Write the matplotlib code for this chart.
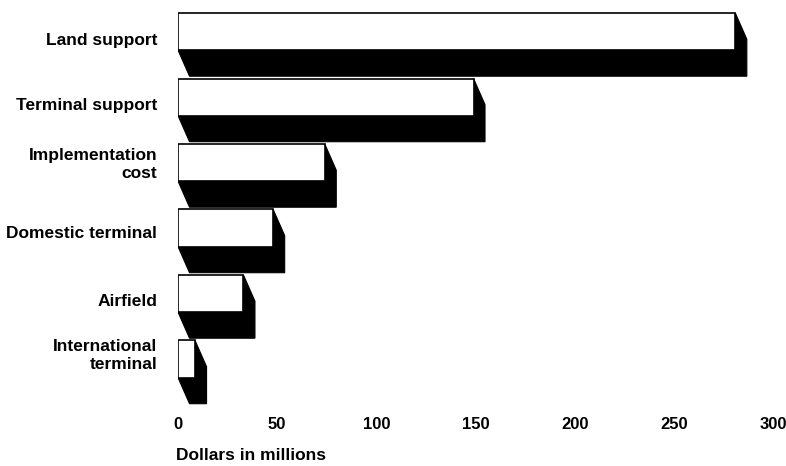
import matplotlib.pyplot as plt
from matplotlib.patches import Polygon, Rectangle

# values (dollars in millions)
categories = ["Land support", "Terminal support", "Implementation\ncost",
              "Domestic terminal", "Airfield", "International\nterminal"]
values = [281, 149, 74, 48, 33, 8.6]
x_ticks = [0, 50, 100, 150, 200, 250, 300]

FONT = "Liberation Sans"
PITCH = 65.5  # pixels per bar slot
# the scanned labels sit a little off the bar centre, offsets in pixels
label_nudge = [7.5, 7, -1.5, 4, 6.5, -7]


def draw_bar(ax, y, value, height=0.565, depth=0.40, dx=5.8):
    """ draws one white front face with a black extruded shadow below/right """
    bottom = y + height
    shadow = [(0, bottom), (value, bottom), (value, y), (value + dx, y + depth),
              (value + dx, bottom + depth), (dx, bottom + depth)]
    ax.add_patch(Polygon(shadow, closed=True, facecolor="black", edgecolor="black",
                         linewidth=0.8, zorder=2))
    ax.add_patch(Rectangle((0, y), value, height, facecolor="white", edgecolor="black",
                           linewidth=1.2, zorder=3))


def main():
    fig = plt.figure(figsize=(7.86, 4.66), dpi=100)
    # axes from x=178px to 773px, y=10px to 410px
    ax = fig.add_axes([178 / 786, 1 - 410 / 466, 595 / 786, 400 / 466])

    for i, v in enumerate(values):
        draw_bar(ax, i, v)

    ax.set_xlim(0, 300)
    ax.set_ylim((410 - 13) / PITCH, (10 - 13) / PITCH)

    ax.set_xticks(x_ticks)
    ax.set_xticklabels([str(t) for t in x_ticks], fontfamily=FONT, fontweight="bold", fontsize=12)
    ax.set_yticks([i + 0.565 / 2 + n / PITCH for i, n in enumerate(label_nudge)])
    ax.set_yticklabels(categories, fontfamily=FONT, fontweight="bold", fontsize=12.5,
                       linespacing=1.25)
    ax.tick_params(axis="x", length=0, pad=5)
    ax.tick_params(axis="y", length=0, pad=15)
    for s in ax.spines.values():
        s.set_visible(False)

    fig.text(176 / 786, 1 - 455 / 466, "Dollars in millions", fontfamily=FONT,
             fontweight="bold", fontsize=12.5, ha="left", va="center")

    fig.savefig("out.png", dpi=100)
    plt.close(fig)


main()
